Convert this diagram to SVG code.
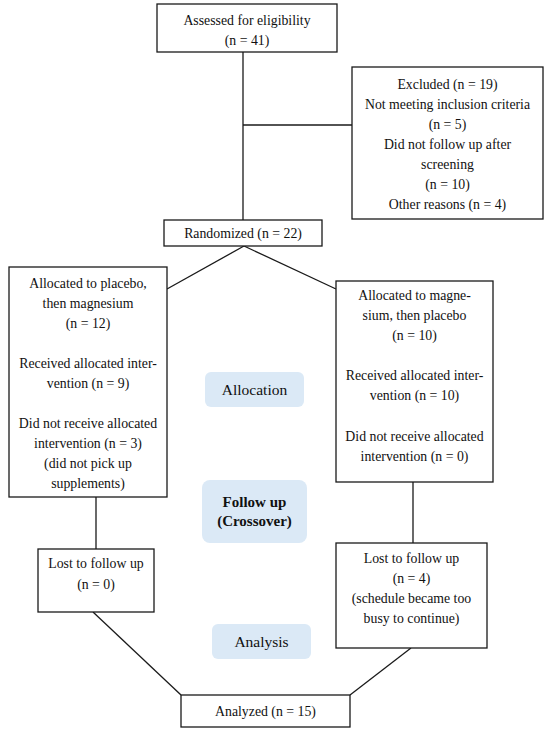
<svg xmlns="http://www.w3.org/2000/svg" width="550" height="730" viewBox="0 0 550 730">
<style>
.box{fill:#fff;stroke:#1a1a1a;stroke-width:1.3}
.lbl{fill:#dbe9f6}
.t{font-family:"Liberation Serif","DejaVu Serif",serif;font-size:13.8px;fill:#111;text-anchor:middle}
.b{font-weight:bold;font-size:15px}
.h{font-size:15.5px}
.c{stroke:#1a1a1a;stroke-width:1.3;fill:none}
</style>
<rect width="550" height="730" fill="#fff"/>
<g id="connectors">
<line class="c" x1="243" y1="52" x2="243" y2="220"/>
<line class="c" x1="243" y1="125" x2="352" y2="125"/>
<line class="c" x1="244" y1="246" x2="167" y2="289"/>
<line class="c" x1="244" y1="246" x2="336" y2="289"/>
<line class="c" x1="96" y1="497" x2="96" y2="549"/>
<line class="c" x1="413" y1="482" x2="413" y2="543"/>
<line class="c" x1="93" y1="612" x2="181" y2="695"/>
<line class="c" x1="411" y1="648" x2="350" y2="695"/>
</g>
<g id="assessed">
<rect class="box" x="157" y="4" width="180" height="48"/>
<text class="t" x="247" y="25">Assessed for eligibility</text>
<text class="t" x="247" y="45">(n = 41)</text>
</g>
<g id="excluded">
<rect class="box" x="352" y="67" width="191" height="152"/>
<text class="t" x="447.5" y="89">Excluded (n = 19)</text>
<text class="t" x="447.5" y="109">Not meeting inclusion criteria</text>
<text class="t" x="447.5" y="129">(n = 5)</text>
<text class="t" x="447.5" y="149">Did not follow up after</text>
<text class="t" x="447.5" y="169">screening</text>
<text class="t" x="447.5" y="189">(n = 10)</text>
<text class="t" x="447.5" y="209">Other reasons (n = 4)</text>
</g>
<g id="randomized">
<rect class="box" x="164" y="220" width="158" height="26"/>
<text class="t" x="243" y="238">Randomized (n = 22)</text>
</g>
<g id="alloc-left">
<rect class="box" x="9" y="267" width="158" height="230"/>
<text class="t" x="88" y="288">Allocated to placebo,</text>
<text class="t" x="88" y="308">then magnesium</text>
<text class="t" x="88" y="328">(n = 12)</text>
<text class="t" x="88" y="368">Received allocated inter-</text>
<text class="t" x="88" y="388">vention (n = 9)</text>
<text class="t" x="88" y="428">Did not receive allocated</text>
<text class="t" x="88" y="448">intervention (n = 3)</text>
<text class="t" x="88" y="468">(did not pick up</text>
<text class="t" x="88" y="488">supplements)</text>
</g>
<g id="alloc-right">
<rect class="box" x="336" y="281" width="157" height="201"/>
<text class="t" x="414.5" y="300">Allocated to magne-</text>
<text class="t" x="414.5" y="320">sium, then placebo</text>
<text class="t" x="414.5" y="340">(n = 10)</text>
<text class="t" x="414.5" y="380">Received allocated inter-</text>
<text class="t" x="414.5" y="400">vention (n = 10)</text>
<text class="t" x="414.5" y="441">Did not receive allocated</text>
<text class="t" x="414.5" y="461">intervention (n = 0)</text>
</g>
<g id="label-allocation">
<rect class="lbl" x="205" y="372" width="99" height="35" rx="6"/>
<text class="t h" x="254.5" y="395">Allocation</text>
</g>
<g id="label-followup">
<rect class="lbl" x="202" y="480" width="105" height="63" rx="8"/>
<text class="t b" x="254.5" y="507">Follow up</text>
<text class="t b" x="254.5" y="526">(Crossover)</text>
</g>
<g id="lost-left">
<rect class="box" x="38" y="549" width="116" height="63"/>
<text class="t" x="96" y="568">Lost to follow up</text>
<text class="t" x="96" y="589">(n = 0)</text>
</g>
<g id="lost-right">
<rect class="box" x="336" y="543" width="151" height="105"/>
<text class="t" x="411.5" y="563">Lost to follow up</text>
<text class="t" x="411.5" y="583">(n = 4)</text>
<text class="t" x="411.5" y="603">(schedule became too</text>
<text class="t" x="411.5" y="623">busy to continue)</text>
</g>
<g id="label-analysis">
<rect class="lbl" x="212" y="624" width="99" height="35" rx="6"/>
<text class="t h" x="261.5" y="647">Analysis</text>
</g>
<g id="analyzed">
<rect class="box" x="181" y="695" width="169" height="32"/>
<text class="t" x="265.5" y="716">Analyzed (n = 15)</text>
</g>
</svg>
